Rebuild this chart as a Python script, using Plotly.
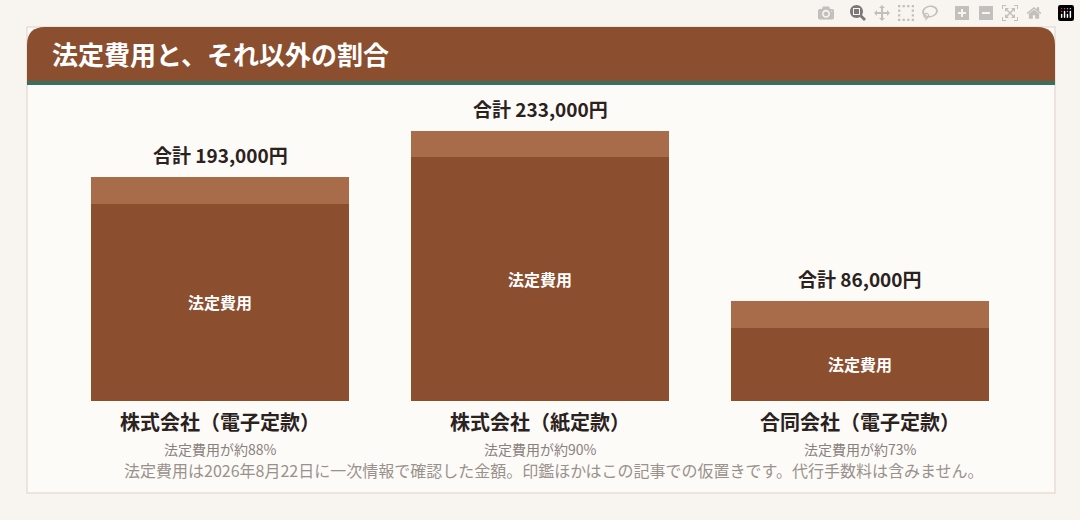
import plotly.graph_objects as go

categories = ["株式会社（電子定款）", "株式会社（紙定款）", "合同会社（電子定款）"]
legal_fees = [170000, 210000, 63000]
other_fees = [23000, 23000, 23000]
totals = [193000, 233000, 86000]
shares = ["法定費用が約88%", "法定費用が約90%", "法定費用が約73%"]

W, H = 1080, 520
FONT = "Noto Sans CJK JP"
DARK = "#8B4E2E"
LIGHT = "#A86C4A"
xs = list(range(len(categories)))

fig = go.Figure()
fig.add_bar(x=xs, y=legal_fees, marker=dict(color=DARK, line=dict(width=0)), width=0.806,
            text=["<b>法定費用</b>"] * 3, textposition="inside", insidetextanchor="middle",
            textfont=dict(color="white", size=16, family=FONT), hoverinfo="skip")
fig.add_bar(x=xs, y=other_fees, marker=dict(color=LIGHT, line=dict(width=0)), width=0.806,
            hoverinfo="skip")

ann = []
for i, c in enumerate(categories):
    ann.append(dict(x=i, y=totals[i], xref="x", yref="y", text=f"<b>合計 {totals[i]:,}円</b>",
                    showarrow=False, yanchor="bottom", yshift=7,
                    font=dict(size=19, color="#2b211d", family=FONT)))
    ann.append(dict(x=i, y=0, xref="x", yref="y", text=f"<b>{c}</b>", showarrow=False,
                    yanchor="middle", yshift=-20, font=dict(size=20, color="#2b211d", family=FONT)))
    ann.append(dict(x=i, y=0, xref="x", yref="y", text=shares[i], showarrow=False,
                    yanchor="middle", yshift=-48, font=dict(size=14, color="#8a817c", family=FONT)))
ann.append(dict(x=553 / W, y=1 - 470 / H, xref="paper", yref="paper", yanchor="middle",
                text="法定費用は2026年8月22日に一次情報で確認した金額。印鑑ほかはこの記事での仮置きです。代行手数料は含みません。",
                showarrow=False, font=dict(size=16, color="#9a918c", family=FONT)))
ann.append(dict(x=50 / W, y=1 - 54 / H, xref="paper", yref="paper", xanchor="left", yanchor="middle",
                text="<b>法定費用と、それ以外の割合</b>", showarrow=False,
                font=dict(size=26, color="white", family=FONT)))

def px(x0, y0, x1, y1):
    return dict(x0=x0 / W, x1=x1 / W, y0=1 - y1 / H, y1=1 - y0 / H, xref="paper", yref="paper")

shapes = [
    dict(type="rect", **px(27, 27, 1055, 493), fillcolor="#FCFBF8",
         line=dict(color="#E8DDD5", width=1.5), layer="below"),
    dict(type="path", xref="paper", yref="paper",
         path=f"M {27/W},{1-81/H} L {27/W},{1-45/H} Q {27/W},{1-27/H} {45/W},{1-27/H} "
              f"L {1037/W},{1-27/H} Q {1055/W},{1-27/H} {1055/W},{1-45/H} L {1055/W},{1-81/H} Z",
         fillcolor=DARK, line=dict(width=0), layer="below"),
    dict(type="rect", **px(27, 81, 1055, 85), fillcolor="#3A7060", line=dict(width=0), layer="below"),
]

fig.update_layout(
    width=W, height=H, barmode="stack", showlegend=False,
    margin=dict(l=0, r=0, t=0, b=0),
    paper_bgcolor="#F8F5F0", plot_bgcolor="rgba(0,0,0,0)",
    xaxis=dict(domain=[60 / W, 1020 / W], range=[-0.5, 2.5], visible=False),
    yaxis=dict(domain=[(H - 401) / H, (H - 53) / H], range=[0, 300000], visible=False),
    annotations=ann, shapes=shapes, font=dict(family=FONT),
    uniformtext=dict(minsize=10, mode="show"),
)
fig.write_html("out.html", post_script="document.body.style.margin='0';document.body.style.overflow='hidden';")
